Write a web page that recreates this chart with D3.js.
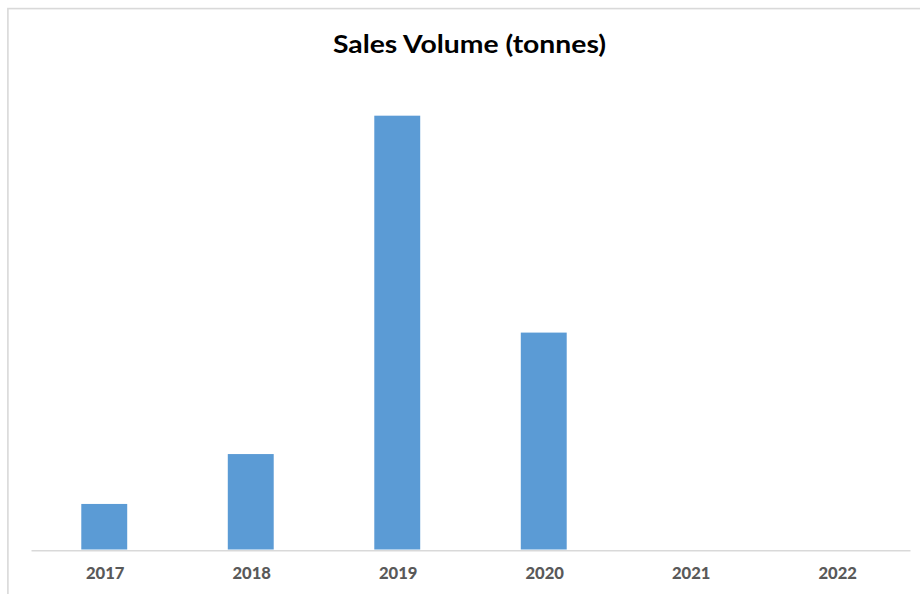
<!DOCTYPE html>
<html>
<head>
<meta charset="utf-8">
<script src="https://cdn.jsdelivr.net/npm/d3@7"></script>
<style>
  html, body { margin: 0; padding: 0; background: #ffffff; overflow: hidden; }
  svg { display: block; }
</style>
</head>
<body>
<div id="chart"></div>
<script>
// Annual sales volume, in tonnes
const years = ["2017", "2018", "2019", "2020", "2021", "2022"];
const volumes = [210, 440, 2000, 1000, 0, 0];
const yMax = 2200;
const chartTitle = "Sales Volume (tonnes)";

const W = 920, H = 594;
const plot = { left: 31, right: 910, top: 72.3, bottom: 549.5 };

const svg = d3.select("#chart").append("svg")
  .attr("width", W).attr("height", H);

// chart area frame (runs off the right and bottom edges)
svg.append("rect")
  .attr("x", 7.9).attr("y", 8.6)
  .attr("width", W + 20).attr("height", H + 20)
  .attr("fill", "#ffffff")
  .attr("stroke", "#d9d9d9").attr("stroke-width", 1.6);

const x = d3.scaleBand().domain(years).range([plot.left, plot.right]).padding(0);
const y = d3.scaleLinear().domain([0, yMax]).range([plot.bottom, plot.top]);

// column width follows a 219% gap between columns
const barW = x.bandwidth() / 3.19;

svg.append("g").selectAll("rect")
  .data(years.map((yr, i) => ({ yr, v: volumes[i] })))
  .join("rect")
  .attr("x", d => x(d.yr) + (x.bandwidth() - barW) / 2)
  .attr("y", d => y(d.v))
  .attr("width", barW)
  .attr("height", d => y(0) - y(d.v))
  .attr("fill", "#5b9bd5");

// category axis
const xAxis = svg.append("g")
  .attr("transform", `translate(0,${y(0) + 0.75})`)
  .call(d3.axisBottom(x).tickSize(0).tickPadding(0));
xAxis.select(".domain")
  .attr("stroke", "#d9d9d9").attr("stroke-width", 1.6);
xAxis.selectAll(".tick text")
  .attr("y", 0)
  .attr("dy", 0)
  .attr("transform", "translate(1,28.8)")
  .attr("font-family", "Lato, 'Open Sans', sans-serif")
  .attr("font-weight", "900")
  .attr("font-size", 16)
  .attr("textLength", 38.5)
  .attr("lengthAdjust", "spacingAndGlyphs")
  .attr("fill", "#595959");

// title
svg.append("text")
  .attr("x", 469.5).attr("y", 53.3)
  .attr("text-anchor", "middle")
  .attr("font-family", "Lato, 'Open Sans', sans-serif")
  .attr("font-weight", "bold")
  .attr("font-size", 24)
  .attr("textLength", 273)
  .attr("lengthAdjust", "spacingAndGlyphs")
  .attr("fill", "#000000")
  .text(chartTitle);
</script>
</body>
</html>
